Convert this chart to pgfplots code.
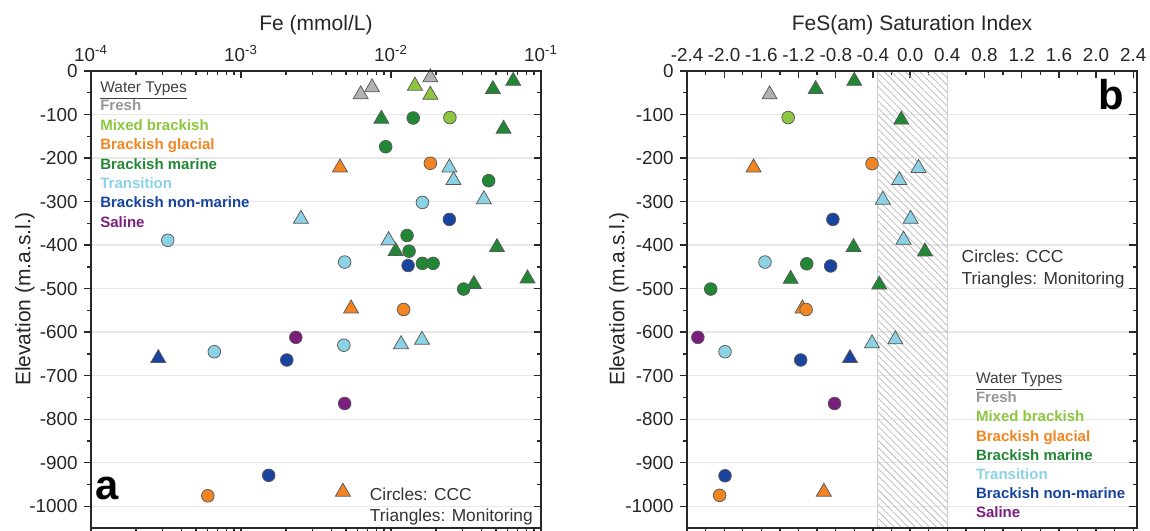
\documentclass[border=0pt]{standalone}
\usepackage{pgfplots}
\pgfplotsset{compat=1.18}
\usepackage{fontspec}
\setmainfont{Liberation Sans}
\setsansfont{Liberation Sans}
\usetikzlibrary{patterns.meta}

\definecolor{cFresh}{RGB}{178,178,178}
\definecolor{tFresh}{RGB}{150,150,150}
\definecolor{cMixed}{RGB}{141,198,63}
\definecolor{cGlac}{RGB}{242,133,34}
\definecolor{cMar}{RGB}{34,135,52}
\definecolor{cTrans}{RGB}{140,210,228}
\definecolor{cNon}{RGB}{24,68,160}
\definecolor{cSal}{RGB}{122,30,125}
\definecolor{spine}{RGB}{40,40,40}

\pgfplotsset{
  panel/.style={
    scale only axis, width=270pt, height=274.2pt, anchor=south west,
    ymin=-1050, ymax=0,
    ytick={-1000,-900,-800,-700,-600,-500,-400,-300,-200,-100,0},
    minor y tick num=1,
    tick label style={font=\fontsize{11.3}{13}\selectfont, text=black!85},
    axis line style={line width=0.9pt, spine},
    major tick length=4.5pt, minor tick length=2.5pt,
    tick style={line width=0.8pt, spine},
  },
  mainax/.style={panel, tick align=inside, xtick pos=top, ytick pos=right,
    xticklabel pos=top, yticklabels={}, ymajorgrids,
    major grid style={line width=0.8pt, gray!18},
    xticklabel style={yshift=2pt}},
  overax/.style={panel, tick align=outside, xtick pos=bottom, ytick pos=left,
    xticklabels={}, yticklabel pos=left,
    yticklabels={-1000,-900,-800,-700,-600,-500,-400,-300,-200,-100,0}},
  ct/.style={only marks, mark=triangle*, mark size=5.2pt,
    mark options={fill=#1, draw=black!65, line width=0.45pt}},
  cc/.style={only marks, mark=*, mark size=3.8pt,
    mark options={fill=#1, draw=black!65, line width=0.45pt}},
}

\begin{document}
\begin{tikzpicture}[x=0.6pt,y=0.6pt]
\useasboundingbox (0,0) rectangle (1150,531);

% ---------------- Panel a ----------------
\begin{axis}[mainax, at={(54.6pt,1.8pt)}, xmode=log, xmin=1e-4, xmax=1e-1,
  xticklabel={10\textsuperscript{\pgfmathparse{int(round(\tick/ln(10)))}\pgfmathresult}}]
% Fresh
\addplot[ct=cFresh] coordinates {(0.00628,-54) (0.00748,-38) (0.0183,-15)};
% Mixed brackish
\addplot[ct=cMixed] coordinates {(0.01445,-34) (0.0183,-55)};
% Brackish marine
\addplot[ct=cMar] coordinates {(0.0478,-42) (0.0653,-23) (0.00863,-110) (0.0563,-133) (0.01074,-414) (0.0509,-405) (0.0813,-477) (0.0357,-490)};
% Brackish glacial
\addplot[ct=cGlac] coordinates {(0.00457,-222) (0.00542,-546) (0.00478,-967)};
% Transition
\addplot[ct=cTrans] coordinates {(0.0245,-222) (0.0261,-251) (0.0416,-295) (0.00251,-340) (0.00964,-389) (0.01167,-628) (0.0161,-618)};
% Brackish non-marine
\addplot[ct=cNon] coordinates {(0.000281,-660)};
% circles
\addplot[cc=cMixed] coordinates {(0.0247,-107)};
\addplot[cc=cMar] coordinates {(0.01406,-108) (0.00922,-174) (0.0448,-252) (0.0128,-378) (0.0132,-414) (0.0162,-442) (0.0191,-442) (0.0305,-501)};
\addplot[cc=cGlac] coordinates {(0.0183,-212) (0.01214,-548) (0.000601,-976)};
\addplot[cc=cTrans] coordinates {(0.0162,-302) (0.000325,-389) (0.00491,-439) (0.00485,-630) (0.000664,-645)};
\addplot[cc=cNon] coordinates {(0.0245,-341) (0.013,-447) (0.00202,-664) (0.00153,-929)};
\addplot[cc=cSal] coordinates {(0.00232,-612) (0.00491,-764)};
\end{axis}
\begin{axis}[overax, at={(54.6pt,1.8pt)}, xmode=log, xmin=1e-4, xmax=1e-1]
\end{axis}

% ---------------- Panel b ----------------
\begin{axis}[mainax, at={(412.2pt,1.8pt)}, xmin=-2.4, xmax=2.44,
  xtick={-2.4,-2,-1.6,-1.2,-0.8,-0.4,0,0.4,0.8,1.2,1.6,2,2.4},
  xticklabels={-2.4,-2.0,-1.6,-1.2,-0.8,-0.4,0.0,0.4,0.8,1.2,1.6,2.0,2.4},
  minor x tick num=1]
\addplot[draw=gray!40, line width=0.6pt, pattern={Lines[angle=-45,distance=3pt,line width=0.45pt]}, pattern color=gray!55]
  coordinates {(-0.35,0) (0.40,0) (0.40,-1050) (-0.35,-1050)} -- cycle;
\addplot[ct=cFresh] coordinates {(-1.512,-54)};
\addplot[ct=cMar] coordinates {(-1.016,-42) (-0.601,-23) (-0.095,-112) (-0.609,-405) (0.159,-415) (-1.285,-478) (-0.332,-491)};
\addplot[ct=cGlac] coordinates {(-1.684,-222) (-1.158,-546) (-0.928,-967)};
\addplot[ct=cTrans] coordinates {(0.090,-223) (-0.117,-251) (-0.294,-296) (0.005,-340) (-0.071,-388) (-0.410,-626) (-0.159,-617)};
\addplot[ct=cNon] coordinates {(-0.647,-660)};
\addplot[cc=cMixed] coordinates {(-1.312,-107)};
\addplot[cc=cMar] coordinates {(-1.112,-443) (-2.145,-501)};
\addplot[cc=cGlac] coordinates {(-0.410,-213) (-1.119,-548) (-2.049,-975)};
\addplot[cc=cTrans] coordinates {(-1.561,-439) (-1.991,-645)};
\addplot[cc=cNon] coordinates {(-0.831,-341) (-0.855,-448) (-1.177,-664) (-1.991,-930)};
\addplot[cc=cSal] coordinates {(-2.283,-612) (-0.813,-764)};
\end{axis}
\begin{axis}[overax, at={(412.2pt,1.8pt)}, xmin=-2.4, xmax=2.44,
  xtick={-2.4,-2,-1.6,-1.2,-0.8,-0.4,0,0.4,0.8,1.2,1.6,2,2.4},
  minor x tick num=1]
\end{axis}

% ---------------- Titles and labels ----------------
\node[anchor=base, inner sep=0, font=\fontsize{12.6}{15}\selectfont, text=black!85] at (316,500.5) {Fe (mmol/L)};
\node[anchor=base, inner sep=0, font=\fontsize{12.6}{15}\selectfont, text=black!85] at (912,500.5) {FeS(am) Saturation Index};
\node[rotate=90, inner sep=0, font=\fontsize{12.6}{15}\selectfont, text=black!85] at (25,232) {Elevation (m.a.s.l.)};
\node[rotate=90, inner sep=0, font=\fontsize{12.6}{15}\selectfont, text=black!85] at (619,232) {Elevation (m.a.s.l.)};

\node[inner sep=0, font=\fontsize{25}{30}\selectfont\bfseries] at (106.7,43) {a};
\node[inner sep=0, font=\fontsize{25}{30}\selectfont\bfseries] at (1111.7,436) {b};

% ---------------- Legends ----------------
\begin{scope}[every node/.style={anchor=base west, inner sep=0}]
\node[font=\fontsize{9.3}{11}\selectfont, text=black!75] at (100,438.2) {\underline{Water Types}};
\node[font=\fontsize{9}{11}\selectfont\bfseries, text=tFresh] at (100,420.3) {Fresh};
\node[font=\fontsize{9}{11}\selectfont\bfseries, text=cMixed] at (100,400.6) {Mixed brackish};
\node[font=\fontsize{9}{11}\selectfont\bfseries, text=cGlac] at (100,381.3) {Brackish glacial};
\node[font=\fontsize{9}{11}\selectfont\bfseries, text=cMar] at (100,361.6) {Brackish marine};
\node[font=\fontsize{9}{11}\selectfont\bfseries, text=cTrans] at (100,342.9) {Transition};
\node[font=\fontsize{9}{11}\selectfont\bfseries, text=cNon] at (100,323.3) {Brackish non-marine};
\node[font=\fontsize{9}{11}\selectfont\bfseries, text=cSal] at (100,303.9) {Saline};

\node[font=\fontsize{9.3}{11}\selectfont, text=black!75] at (975.7,147.6) {\underline{Water Types}};
\node[font=\fontsize{9}{11}\selectfont\bfseries, text=tFresh] at (975.7,128.6) {Fresh};
\node[font=\fontsize{9}{11}\selectfont\bfseries, text=cMixed] at (975.7,109.6) {Mixed brackish};
\node[font=\fontsize{9}{11}\selectfont\bfseries, text=cGlac] at (975.7,89.9) {Brackish glacial};
\node[font=\fontsize{9}{11}\selectfont\bfseries, text=cMar] at (975.7,70.6) {Brackish marine};
\node[font=\fontsize{9}{11}\selectfont\bfseries, text=cTrans] at (975.7,51.6) {Transition};
\node[font=\fontsize{9}{11}\selectfont\bfseries, text=cNon] at (975.7,32.6) {Brackish non-marine};
\node[font=\fontsize{9}{11}\selectfont\bfseries, text=cSal] at (975.7,13.6) {Saline};

\node[font=\fontsize{10.4}{12}\selectfont, text=black!80] at (369.6,30.8) {Circles: CCC};
\node[font=\fontsize{10.4}{12}\selectfont, text=black!80] at (369.6,9.8) {Triangles: Monitoring};
\node[font=\fontsize{10.4}{12}\selectfont, text=black!80] at (961.4,268.1) {Circles: CCC};
\node[font=\fontsize{10.4}{12}\selectfont, text=black!80] at (961.4,246.5) {Triangles: Monitoring};
\end{scope}
\end{tikzpicture}
\end{document}
